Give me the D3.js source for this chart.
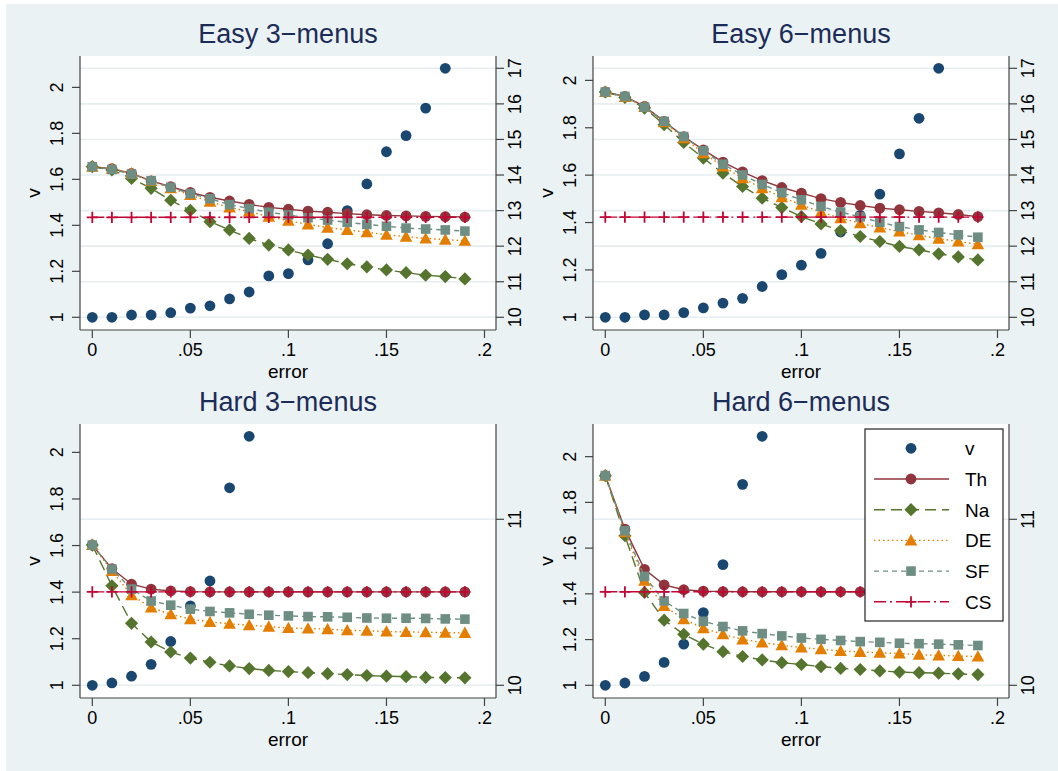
<!DOCTYPE html>
<html>
<head>
    <title>v by error: Easy/Hard, 3/6 menus</title>
    <script src="https://d3js.org/d3.v7.min.js"></script>
    <style>
        body { margin: 0; background: #fff; }
        text { font-family: "Liberation Sans", Arial, sans-serif; fill: #000; }
        .title { font-size: 27px; fill: #1c2c58; }
        .tick-label { font-size: 18px; }
        .axis-title { font-size: 19px; }
        .legend text { font-size: 19px; }
    </style>
</head>
<body>
    <div id="chart"></div>
    <script>
        // ---- data ----
        var errors = [0, 0.01, 0.02, 0.03, 0.04, 0.05, 0.06, 0.07, 0.08, 0.09,
                      0.10, 0.11, 0.12, 0.13, 0.14, 0.15, 0.16, 0.17, 0.18, 0.19];

        var panelTitles = ["Easy 3\u2212menus", "Easy 6\u2212menus", "Hard 3\u2212menus", "Hard 6\u2212menus"];

        var seriesNames = ["v", "Th", "Na", "DE", "SF", "CS"];

        var vVals = [
            [1.00, 1.00, 1.01, 1.01, 1.02, 1.04, 1.05, 1.08, 1.11, 1.18, 1.19, 1.25, 1.32, 1.464, 1.58, 1.72, 1.79, 1.91, 2.083],
            [1.00, 1.00, 1.01, 1.01, 1.02, 1.04, 1.06, 1.08, 1.13, 1.18, 1.22, 1.27, 1.36, 1.43, 1.52, 1.69, 1.84, 2.051],
            [1.00, 1.01, 1.039, 1.09, 1.188, 1.341, 1.448, 1.848, 2.069],
            [1.00, 1.01, 1.039, 1.10, 1.18, 1.318, 1.528, 1.879, 2.089]
        ];
        var thVals = [
            [1.655, 1.646, 1.626, 1.593, 1.568, 1.543, 1.522, 1.506, 1.491, 1.478, 1.470, 1.462, 1.457, 1.451, 1.446, 1.443, 1.441, 1.439, 1.438, 1.436],
            [1.951, 1.932, 1.890, 1.827, 1.763, 1.707, 1.655, 1.614, 1.577, 1.548, 1.524, 1.501, 1.485, 1.472, 1.461, 1.454, 1.447, 1.441, 1.434, 1.425],
            [1.602, 1.501, 1.434, 1.413, 1.405, 1.402, 1.401, 1.401, 1.401, 1.401, 1.401, 1.401, 1.401, 1.401, 1.401, 1.401, 1.401, 1.401, 1.401, 1.401],
            [1.917, 1.683, 1.507, 1.439, 1.418, 1.412, 1.410, 1.409, 1.409, 1.409, 1.409, 1.409, 1.409, 1.409, 1.409, 1.409, 1.409, 1.409, 1.409, 1.409]
        ];
        var naVals = [
            [1.655, 1.641, 1.604, 1.561, 1.509, 1.465, 1.416, 1.380, 1.343, 1.314, 1.293, 1.271, 1.252, 1.233, 1.219, 1.206, 1.194, 1.183, 1.177, 1.167],
            [1.951, 1.928, 1.883, 1.813, 1.738, 1.672, 1.608, 1.552, 1.503, 1.463, 1.425, 1.394, 1.366, 1.341, 1.320, 1.299, 1.285, 1.268, 1.255, 1.242],
            [1.602, 1.427, 1.266, 1.186, 1.143, 1.117, 1.099, 1.083, 1.072, 1.064, 1.059, 1.054, 1.050, 1.046, 1.042, 1.039, 1.037, 1.034, 1.033, 1.032],
            [1.917, 1.654, 1.406, 1.285, 1.223, 1.180, 1.147, 1.126, 1.111, 1.099, 1.091, 1.082, 1.074, 1.069, 1.063, 1.058, 1.055, 1.053, 1.050, 1.047]
        ];
        var deVals = [
            [1.655, 1.646, 1.626, 1.593, 1.561, 1.532, 1.503, 1.478, 1.460, 1.438, 1.420, 1.404, 1.390, 1.380, 1.370, 1.359, 1.351, 1.343, 1.338, 1.333],
            [1.951, 1.930, 1.888, 1.823, 1.756, 1.693, 1.637, 1.587, 1.545, 1.507, 1.475, 1.444, 1.418, 1.397, 1.379, 1.362, 1.346, 1.332, 1.320, 1.308],
            [1.602, 1.491, 1.387, 1.334, 1.305, 1.284, 1.272, 1.264, 1.258, 1.252, 1.246, 1.244, 1.241, 1.236, 1.234, 1.231, 1.229, 1.228, 1.226, 1.225],
            [1.917, 1.669, 1.457, 1.347, 1.289, 1.250, 1.223, 1.201, 1.187, 1.175, 1.165, 1.158, 1.150, 1.146, 1.142, 1.139, 1.134, 1.131, 1.128, 1.126]
        ];
        var sfVals = [
            [1.655, 1.643, 1.623, 1.594, 1.565, 1.538, 1.516, 1.490, 1.473, 1.457, 1.445, 1.433, 1.423, 1.413, 1.404, 1.396, 1.388, 1.384, 1.380, 1.375],
            [1.951, 1.932, 1.887, 1.827, 1.763, 1.703, 1.646, 1.601, 1.561, 1.526, 1.496, 1.468, 1.444, 1.424, 1.401, 1.383, 1.369, 1.358, 1.348, 1.338],
            [1.602, 1.499, 1.413, 1.362, 1.344, 1.327, 1.317, 1.311, 1.305, 1.301, 1.298, 1.295, 1.294, 1.292, 1.289, 1.288, 1.288, 1.287, 1.285, 1.284],
            [1.917, 1.676, 1.476, 1.369, 1.314, 1.280, 1.257, 1.238, 1.226, 1.216, 1.207, 1.201, 1.196, 1.191, 1.188, 1.184, 1.182, 1.180, 1.177, 1.174]
        ];
        var csVals = [
            [1.435, 1.435, 1.435, 1.435, 1.435, 1.435, 1.435, 1.435, 1.435, 1.435, 1.435, 1.435, 1.435, 1.435, 1.435, 1.435, 1.435, 1.435, 1.435, 1.435],
            [1.423, 1.423, 1.423, 1.423, 1.423, 1.423, 1.423, 1.423, 1.423, 1.423, 1.423, 1.423, 1.423, 1.423, 1.423, 1.423, 1.423, 1.423, 1.423, 1.423],
            [1.401, 1.401, 1.401, 1.401, 1.401, 1.401, 1.401, 1.401, 1.401, 1.401, 1.401, 1.401, 1.401, 1.401, 1.401, 1.401, 1.401, 1.401, 1.401, 1.401],
            [1.409, 1.409, 1.409, 1.409, 1.409, 1.409, 1.409, 1.409, 1.409, 1.409, 1.409, 1.409, 1.409, 1.409, 1.409, 1.409, 1.409, 1.409, 1.409, 1.409]
        ];

        var xTicks = [0, 0.05, 0.1, 0.15, 0.2];
        var xTickLabels = ["0", ".05", ".1", ".15", ".2"];
        var leftTicks = [1, 1.2, 1.4, 1.6, 1.8, 2];
        var leftTickLabels = ["1", "1.2", "1.4", "1.6", "1.8", "2"];
        var rightTicks = [
            [10, 11, 12, 13, 14, 15, 16, 17],
            [10, 11, 12, 13, 14, 15, 16, 17],
            [10, 11],
            [10, 11]
        ];
        var rightMax = [17, 17, 11.5, 11.5];
        var rightMin = 10;

        // ---- layout ----
        var W = 1058, H = 771;
        var colLeft = [80, 593], rowTop = [56, 424];
        var plotW = 416, plotH = 274;

        var color = {
            v: "#1a476f", Th: "#90353b", Na: "#55752f",
            DE: "#e37e00", SF: "#6e8e84", CS: "#c10534"
        };
        var dash = { v: null, Th: null, Na: "11,6", DE: "1.5,3", SF: "5,4", CS: "12,4,2,4" };

        var svg = d3.select("#chart").append("svg")
            .attr("width", W)
            .attr("height", H);

        svg.append("rect")
            .attr("x", 6).attr("y", 4)
            .attr("width", W - 6).attr("height", H - 4)
            .attr("fill", "#eaf2f3");

        function drawMarker(g, name, x, y) {
            var c = color[name];
            if (name === "v" || name === "Th") {
                g.append("circle").attr("cx", x).attr("cy", y).attr("r", 5.4).attr("fill", c);
            } else if (name === "Na") {
                var s = 6.6;
                g.append("path")
                    .attr("d", "M" + x + "," + (y - s) + "L" + (x + s) + "," + y + "L" + x + "," + (y + s) + "L" + (x - s) + "," + y + "Z")
                    .attr("fill", c);
            } else if (name === "DE") {
                var t = 6.3;
                g.append("path")
                    .attr("d", "M" + x + "," + (y - t) + "L" + (x + t) + "," + (y + t * 0.8) + "L" + (x - t) + "," + (y + t * 0.8) + "Z")
                    .attr("fill", c);
            } else if (name === "SF") {
                g.append("rect").attr("x", x - 4.8).attr("y", y - 4.8)
                    .attr("width", 9.6).attr("height", 9.6).attr("fill", c);
            } else if (name === "CS") {
                var p = 5.6;
                g.append("path")
                    .attr("d", "M" + (x - p) + "," + y + "H" + (x + p) + "M" + x + "," + (y - p) + "V" + (y + p))
                    .attr("stroke", c).attr("stroke-width", 1.8).attr("fill", "none");
            }
        }

        var allSeries = { v: vVals, Th: thVals, Na: naVals, DE: deVals, SF: sfVals, CS: csVals };

        panelTitles.forEach(function(title, p) {
            var left = colLeft[p % 2], top = rowTop[Math.floor(p / 2)];
            var right = left + plotW, bottom = top + plotH;

            var x = d3.scaleLinear().domain([0, 0.2]).range([left + 12.3, right - 11.5]);
            var y = d3.scaleLinear().domain([1, d3.max(vVals[p])]).range([bottom - 12.7, top + 12.3]);
            var y2 = d3.scaleLinear().domain([rightMin, rightMax[p]]).range([bottom - 12.7, top + 12.3]);

            var g = svg.append("g");

            g.append("rect")
                .attr("x", left).attr("y", top)
                .attr("width", plotW).attr("height", plotH)
                .attr("fill", "#fff");

            // grid lines follow the right-hand axis
            g.selectAll(".grid")
                .data(rightTicks[p])
                .enter().append("line")
                .attr("x1", left).attr("x2", right)
                .attr("y1", function(d) { return y2(d); })
                .attr("y2", function(d) { return y2(d); })
                .attr("stroke", "#e6eef0")
                .attr("stroke-width", 1.6);

            g.append("text")
                .attr("class", "title")
                .attr("x", (left + right) / 2)
                .attr("y", top - 13)
                .attr("text-anchor", "middle")
                .text(title);

            // series
            seriesNames.forEach(function(name) {
                var vals = allSeries[name][p];
                var pts = vals.map(function(v, i) { return [x(errors[i]), y(v)]; });
                if (name !== "v") {
                    g.append("path")
                        .attr("d", d3.line()(pts))
                        .attr("fill", "none")
                        .attr("stroke", color[name])
                        .attr("stroke-width", 1.4)
                        .attr("stroke-dasharray", dash[name]);
                }
                var mg = g.append("g");
                pts.forEach(function(pt) { drawMarker(mg, name, pt[0], pt[1]); });
            });

            // axes
            var axisColor = "#444";
            g.append("line").attr("x1", left).attr("x2", left).attr("y1", top).attr("y2", bottom)
                .attr("stroke", axisColor).attr("stroke-width", 1.2);
            g.append("line").attr("x1", right).attr("x2", right).attr("y1", top).attr("y2", bottom)
                .attr("stroke", axisColor).attr("stroke-width", 1.2);
            g.append("line").attr("x1", left).attr("x2", right).attr("y1", bottom).attr("y2", bottom)
                .attr("stroke", axisColor).attr("stroke-width", 1.2);

            leftTicks.forEach(function(t, i) {
                g.append("line").attr("x1", left - 8).attr("x2", left).attr("y1", y(t)).attr("y2", y(t))
                    .attr("stroke", axisColor).attr("stroke-width", 1.2);
                g.append("text").attr("class", "tick-label")
                    .attr("transform", "translate(" + (left - 17) + "," + y(t) + ") rotate(-90)")
                    .attr("text-anchor", "middle")
                    .text(leftTickLabels[i]);
            });

            rightTicks[p].forEach(function(t) {
                g.append("line").attr("x1", right).attr("x2", right + 8).attr("y1", y2(t)).attr("y2", y2(t))
                    .attr("stroke", axisColor).attr("stroke-width", 1.2);
                g.append("text").attr("class", "tick-label")
                    .attr("transform", "translate(" + (right + 25) + "," + y2(t) + ") rotate(-90)")
                    .attr("text-anchor", "middle")
                    .text(t);
            });

            xTicks.forEach(function(t, i) {
                g.append("line").attr("x1", x(t)).attr("x2", x(t)).attr("y1", bottom).attr("y2", bottom + 8)
                    .attr("stroke", axisColor).attr("stroke-width", 1.2);
                g.append("text").attr("class", "tick-label")
                    .attr("x", x(t)).attr("y", bottom + 26)
                    .attr("text-anchor", "middle")
                    .text(xTickLabels[i]);
            });

            g.append("text").attr("class", "axis-title")
                .attr("x", (left + right) / 2).attr("y", bottom + 48)
                .attr("text-anchor", "middle")
                .text("error");

            g.append("text").attr("class", "axis-title")
                .attr("transform", "translate(" + (left - 40) + "," + (top + bottom) / 2 + ") rotate(-90)")
                .attr("text-anchor", "middle")
                .text("v");
        });

        // legend inside the last panel
        var lg = svg.append("g").attr("class", "legend");
        lg.append("rect")
            .attr("x", 865).attr("y", 429)
            .attr("width", 138).attr("height", 192)
            .attr("fill", "#fff").attr("stroke", "#222").attr("stroke-width", 1.2);

        seriesNames.forEach(function(name, i) {
            var ry = 448.3 + i * 30.7;
            if (name !== "v") {
                lg.append("line")
                    .attr("x1", 874).attr("x2", 949).attr("y1", ry).attr("y2", ry)
                    .attr("stroke", color[name]).attr("stroke-width", 1.4)
                    .attr("stroke-dasharray", dash[name]);
            }
            drawMarker(lg, name, 911, ry);
            lg.append("text")
                .attr("x", 965).attr("y", ry + 7)
                .text(name);
        });
    </script>
</body>
</html>
